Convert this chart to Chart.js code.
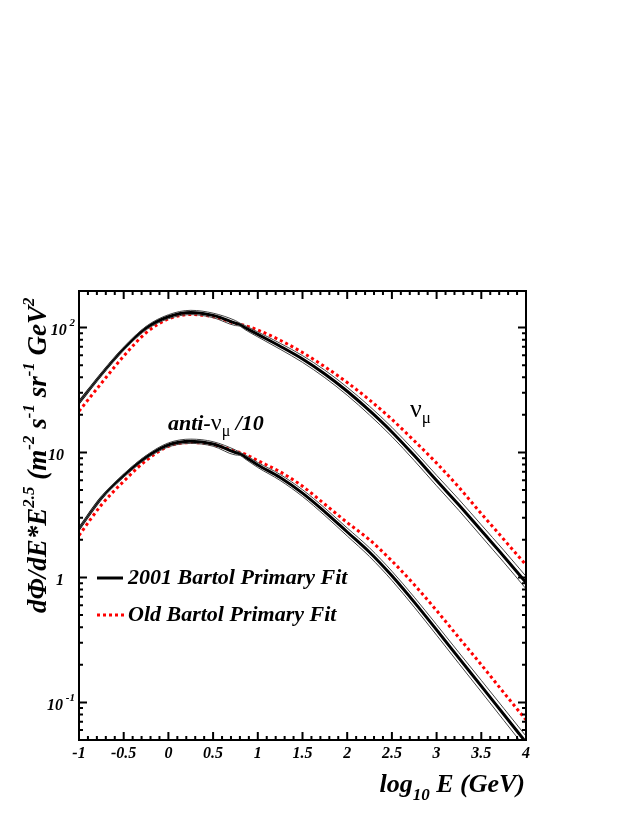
<!DOCTYPE html>
<html>
<head>
<meta charset="utf-8">
<script src="https://cdn.jsdelivr.net/npm/chart.js@4"></script>
<style>
  html, body { margin: 0; padding: 0; background: #fff; }
  canvas { display: block; }
</style>
</head>
<body>
<canvas id="fluxChart" width="632" height="817"></canvas>
<script>
// log10 E (GeV) sample points shared by every curve
const logE = [-1, -0.75, -0.5, -0.25, 0, 0.25, 0.5, 0.75, 0.8, 0.85, 1, 1.25, 1.5, 1.75, 2, 2.25, 2.5, 2.75, 3, 3.25, 3.5, 3.75, 4]

// nu_mu flux * E^2.5
const numuNew = [25.1, 42.2, 67.6, 98.9, 122, 132, 125, 108.5, 105.5, 100.5, 88.1, 70.8, 56.0, 42.5, 30.9, 21.6, 14.6, 9.44, 5.96, 3.80, 2.37, 1.48, 0.91]
const numuOld = [21.4, 35.8, 59.0, 90.6, 117, 127, 122, 108, 106, 104, 95.5, 79.1, 63.1, 48.5, 36.3, 26.3, 18.4, 12.4, 8.22, 5.25, 3.24, 2.02, 1.26]

// anti nu_mu flux * E^2.5 / 10
const antiNew = [2.45, 4.32, 6.53, 9.16, 11.5, 12.3, 11.7, 10.0, 9.75, 9.3, 7.94, 6.31, 4.73, 3.35, 2.31, 1.59, 1.03, 0.634, 0.380, 0.226, 0.135, 0.0804, 0.0479]
const antiOld = [2.17, 3.80, 5.88, 8.61, 11.2, 12.0, 11.6, 10.2, 10.0, 9.75, 8.61, 7.0, 5.37, 3.85, 2.75, 2.0, 1.355, 0.875, 0.543, 0.329, 0.20, 0.120, 0.0724]

// half width of the 2001 fit error band, in decades
const bandDex = [0.008, 0.01, 0.012, 0.014, 0.016, 0.017, 0.018, 0.02, 0.012, 0.016, 0.02, 0.024, 0.027, 0.03, 0.032, 0.035, 0.037, 0.04, 0.042, 0.044, 0.046, 0.048, 0.05]

// axes
const xMin = -1
const xMax = 4
const yMin = 0.05
const yMax = 196
const xTickValues = [-1, -0.5, 0, 0.5, 1, 1.5, 2, 2.5, 3, 3.5, 4]
const xTickLabels = ['-1', '-0.5', '0', '0.5', '1', '1.5', '2', '2.5', '3', '3.5', '4']
const yTickValues = [0.1, 1, 10, 100]
const yTickBase = ['10', '1', '10', '10']
const yTickExp = ['-1', '', '', '2']

const legendLabels = ['2001 Bartol Primary Fit', 'Old Bartol Primary Fit']

const serif = '"Liberation Serif", "Times New Roman", serif'
const bi = size => `italic bold ${size}px ${serif}`
const rg = size => `${size}px ${serif}`

function points(values) {
  return values.map((v, i) => ({ x: logE[i], y: v }))
}

function bandEdge(values, sign) {
  return values.map((v, i) => ({ x: logE[i], y: v * Math.pow(10, sign * bandDex[i]) }))
}

function lineSet(data, color, width, dash) {
  return {
    data,
    borderColor: color,
    borderWidth: width,
    borderDash: dash || [],
    pointRadius: 0,
    fill: false,
    cubicInterpolationMode: 'monotone'
  }
}

// text made of pieces with their own font and vertical shift
function richWidth(ctx, parts) {
  let w = 0
  parts.forEach(p => { ctx.font = p.f; w += ctx.measureText(p.t).width })
  return w
}

function drawRich(ctx, parts, x, y, align) {
  let cx = align === 'right' ? x - richWidth(ctx, parts) : x
  parts.forEach(p => {
    ctx.font = p.f
    ctx.fillText(p.t, cx, y + (p.dy || 0))
    cx += ctx.measureText(p.t).width
  })
}

const decorPlugin = {
  id: 'decor',
  afterDatasetsDraw(chart) {
    const { ctx, chartArea: a, scales: { x, y } } = chart
    ctx.save()
    ctx.strokeStyle = '#000'
    ctx.fillStyle = '#000'
    ctx.lineWidth = 2

    // ticks inside the frame, on all four sides
    ctx.beginPath()
    for (let i = xMin * 10; i <= xMax * 10; i++) {
      const px = x.getPixelForValue(i / 10)
      const len = i % 5 === 0 ? 8 : 4
      ctx.moveTo(px, a.bottom); ctx.lineTo(px, a.bottom - len)
      ctx.moveTo(px, a.top); ctx.lineTo(px, a.top + len)
    }
    ;[0.01, 0.1, 1, 10, 100].forEach(d => {
      for (let m = 1; m <= 9; m++) {
        const v = m * d
        if (v < yMin || v > yMax) continue
        const py = y.getPixelForValue(v)
        const len = m === 1 ? 8 : 4
        ctx.moveTo(a.left, py); ctx.lineTo(a.left + len, py)
        ctx.moveTo(a.right, py); ctx.lineTo(a.right - len, py)
      }
    })
    ctx.stroke()
    ctx.strokeRect(a.left, a.top, a.right - a.left, a.bottom - a.top)

    // x tick labels
    ctx.font = bi(16)
    ctx.textAlign = 'center'
    ctx.textBaseline = 'middle'
    xTickValues.forEach((v, i) => ctx.fillText(xTickLabels[i], x.getPixelForValue(v), 754))

    // y tick labels
    ctx.textAlign = 'left'
    yTickValues.forEach((v, i) => {
      const py = y.getPixelForValue(v) + 3
      if (yTickExp[i]) {
        drawRich(ctx, [{ t: yTickBase[i], f: bi(16) }, { t: ' ' + yTickExp[i], f: bi(11), dy: -7 }], 75, py, 'right')
      } else {
        drawRich(ctx, [{ t: yTickBase[i], f: bi(16) }], 64, py, 'right')
      }
    })

    // axis titles
    ctx.textBaseline = 'alphabetic'
    drawRich(ctx, [
      { t: 'log', f: bi(26) },
      { t: '10', f: bi(17), dy: 8 },
      { t: ' E (GeV)', f: bi(26) }
    ], 525, 792, 'right')

    ctx.save()
    ctx.translate(46, 613)
    ctx.rotate(-Math.PI / 2)
    drawRich(ctx, [
      { t: 'dΦ/dE*E', f: bi(27) },
      { t: '2.5', f: bi(17), dy: -12 },
      { t: ' (m', f: bi(27) },
      { t: '-2', f: bi(17), dy: -12 },
      { t: ' s', f: bi(27) },
      { t: '-1', f: bi(17), dy: -12 },
      { t: ' sr', f: bi(27) },
      { t: '-1', f: bi(17), dy: -12 },
      { t: ' GeV', f: bi(27) },
      { t: '2', f: bi(17), dy: -12 }
    ], 0, 0, 'left')
    ctx.restore()

    // curve annotations
    drawRich(ctx, [{ t: 'ν', f: rg(26) }, { t: 'μ', f: rg(17), dy: 6 }], 410, 417, 'left')
    drawRich(ctx, [
      { t: 'anti-', f: bi(22) },
      { t: 'ν', f: rg(24) },
      { t: 'μ', f: rg(16), dy: 6 },
      { t: ' /10', f: bi(22) }
    ], 168, 430, 'left')

    // legend
    ctx.lineWidth = 3
    ctx.beginPath(); ctx.moveTo(97, 578); ctx.lineTo(123, 578); ctx.stroke()
    ctx.strokeStyle = '#ff0000'
    ctx.setLineDash([3, 3])
    ctx.beginPath(); ctx.moveTo(97, 615); ctx.lineTo(124, 615); ctx.stroke()
    ctx.setLineDash([])
    ctx.textBaseline = 'middle'
    ctx.font = bi(22)
    ctx.fillText(legendLabels[0], 128, 578)
    ctx.fillText(legendLabels[1], 128, 615)

    ctx.restore()
  }
}

new Chart(document.getElementById('fluxChart'), {
  type: 'line',
  data: {
    datasets: [
      lineSet(bandEdge(numuNew, 1), '#444', 1),
      lineSet(bandEdge(numuNew, -1), '#444', 1),
      lineSet(bandEdge(antiNew, 1), '#444', 1),
      lineSet(bandEdge(antiNew, -1), '#444', 1),
      lineSet(points(numuNew), '#000', 3),
      lineSet(points(antiNew), '#000', 3),
      lineSet(points(numuOld), '#ff0000', 3, [3, 3]),
      lineSet(points(antiOld), '#ff0000', 3, [3, 3])
    ]
  },
  options: {
    responsive: false,
    animation: false,
    layout: { padding: { left: 79, right: 106, top: 291, bottom: 77 } },
    plugins: { legend: { display: false }, tooltip: { enabled: false } },
    scales: {
      x: { type: 'linear', min: xMin, max: xMax, display: false },
      y: { type: 'logarithmic', min: yMin, max: yMax, display: false }
    }
  },
  plugins: [decorPlugin]
})
</script>
</body>
</html>
